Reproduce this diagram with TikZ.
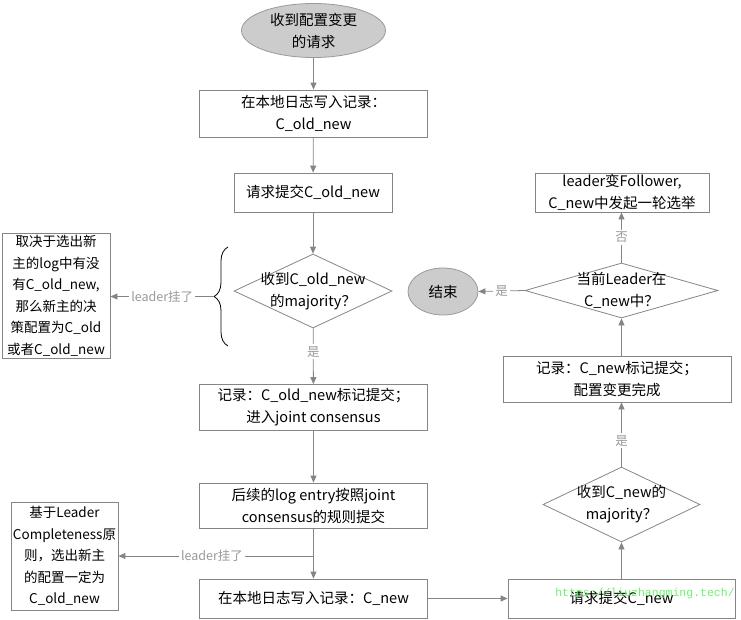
\documentclass[tikz,border=0pt]{standalone}
\usepackage{fontspec}
\setmainfont{Noto Sans CJK SC}
\setmonofont{Liberation Mono}
\usetikzlibrary{arrows.meta,shapes.geometric,decorations.pathreplacing}
\definecolor{edge}{HTML}{858585}
\definecolor{tag}{HTML}{9A9A9A}
\definecolor{term}{HTML}{CCCCCC}
\definecolor{mark}{HTML}{55EE55}

\begin{document}
\begin{tikzpicture}[x=1pt,y=-1pt,
  every node/.style={font=\fontsize{14.5}{22}\selectfont, text=black},
  proc/.style={draw=edge, line width=0.8pt, rectangle, inner sep=0pt, align=center},
  note/.style={proc, font=\fontsize{13.5}{21.5}\selectfont},
  decision/.style={diamond, draw=edge, line width=0.8pt, inner sep=0pt,
                   minimum width=158pt, minimum height=74pt},
  terminal/.style={ellipse, draw=tag, fill=term, line width=0.8pt, inner sep=0pt},
  inner/.style={align=center, inner sep=0pt},
  flow/.style={draw=edge, line width=0.8pt, -{Triangle[length=7pt,width=6pt]}},
  lbl/.style={fill=white, text=tag, font=\fontsize{12.5}{14}\selectfont, inner sep=2pt},
]
\useasboundingbox (0,0) rectangle (741,619);

% main column
\node[terminal, minimum width=144pt, minimum height=54pt] (start) at (313.5,30.5) {};
\node[inner] at (start.center) {收到配置变更\\的请求};

\node[proc, minimum width=228pt, minimum height=47pt] (b1) at (313.5,113.5)
  {在本地日志写入记录：\\C\_old\_new};
\node[proc, minimum width=158pt, minimum height=39pt] (b2) at (313,192.5)
  {请求提交C\_old\_new};
\node[decision] (d1) at (313,291) {};
\node[inner] at (d1.center) {收到C\_old\_new\\的majority？};
\node[proc, minimum width=228pt, minimum height=46pt] (b3) at (313.5,407.5)
  {记录：C\_old\_new标记提交；\\进入joint consensus};
\node[proc, minimum width=228pt, minimum height=45pt] (b4) at (313.5,505.5)
  {后续的log entry按照joint\\consensus的规则提交};
\node[proc, minimum width=228pt, minimum height=39pt] (b5) at (313.5,598.5)
  {在本地日志写入记录：C\_new};

% right column
\node[proc, minimum width=227pt, minimum height=39pt] (b6) at (621.5,598.5)
  {请求提交C\_new};
\node[decision, minimum width=157pt, minimum height=75pt] (d2) at (621.5,504.5) {};
\node[inner] at (d2.center) {收到C\_new的\\majority？};
\node[proc, minimum width=228pt, minimum height=46pt] (b7) at (617,379)
  {记录：C\_new标记提交；\\配置变更完成};
\node[decision, minimum width=193pt, minimum height=55pt] (d3) at (621.5,290.5) {};
\node[inner] at (d3.center) {当前Leader在\\C\_new中？};
\node[proc, minimum width=174pt, minimum height=39pt] (b8) at (622,192.5)
  {leader变Follower,\\C\_new中发起一轮选举};
\node[terminal, minimum width=70pt, minimum height=47pt] (stop) at (443,291.5) {};
\node[inner] at (stop.center) {结束};

% side notes
\node[note, minimum width=108pt, minimum height=125pt] (s1) at (56,295.5)
  {取决于选出新\\主的log中有没\\有C\_old\_new,\\那么新主的决\\策配置为C\_old\\或者C\_old\_new};
\node[note, minimum width=107pt, minimum height=108pt] (s2) at (64.5,556)
  {基于Leader\\Completeness原\\则，选出新主\\的配置一定为\\C\_old\_new};

% main flow
\draw[flow] (start) -- (b1);
\draw[flow] (b1) -- (b2);
\draw[flow] (b2) -- (d1);
\draw[flow] (d1) -- node[lbl, pos=0.42] {是} (b3);
\draw[flow] (b3) -- (b4);
\draw[flow] (b4) -- (b5);
\draw[flow] (b5) -- (b6);
\draw[flow] (b6.north -| d2.south) -- (d2.south);
\draw[flow] (d2.north) -- node[lbl, pos=0.4] {是} (d2.north |- b7.south);
\draw[flow] (b7.north -| d3.south) -- (d3.south);
\draw[flow] (d3.north) -- node[lbl] {否} (d3.north |- b8.south);
\draw[flow] (d3.west) -- node[lbl] {是} (stop.east);

% leader failure branches
\draw[draw=black, line width=0.8pt, decorate,
      decoration={brace, amplitude=14pt, aspect=0.5}]
  (228,346) -- (228,247);
\coordinate (tip) at (214,296.5);
\draw[flow] (tip) -- node[lbl] {leader挂了} (tip -| s1.east);
\coordinate (fork) at (313.5,556);
\draw[flow] (fork) -- node[lbl, pos=0.52] {leader挂了} (fork -| s2.east);

% site address
\node[font=\ttfamily\fontsize{11.5}{12}\selectfont, text=mark, text opacity=0.85,
      inner sep=0pt] (site) at (645,594) {https://liuzhangming.tech/};
\end{tikzpicture}
\end{document}
